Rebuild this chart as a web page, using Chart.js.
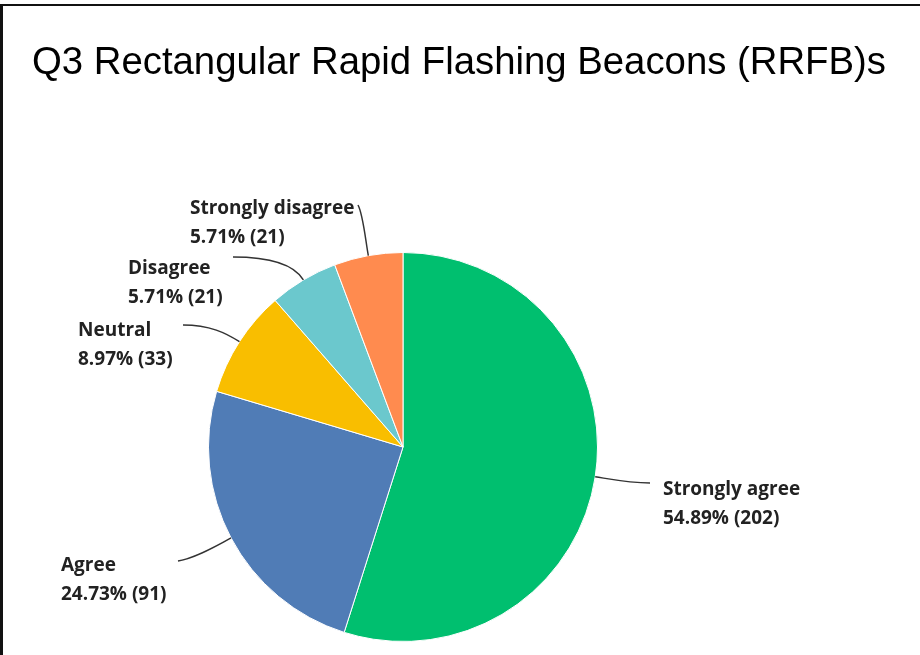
<!DOCTYPE html>
<html>
<head>
<meta charset="utf-8">
<script src="https://cdn.jsdelivr.net/npm/chart.js@4"></script>
<style>
    html, body { margin: 0; padding: 0; background: #fff; }
    canvas { display: block; }
</style>
</head>
<body>
<canvas id="pieChart" width="920" height="655"></canvas>
<script>
// chart data
const titleText = 'Q3 Rectangular Rapid Flashing Beacons (RRFB)s';
const answers = ['Strongly agree', 'Agree', 'Neutral', 'Disagree', 'Strongly disagree'];
const counts = [202, 91, 33, 21, 21];
const percents = ['54.89%', '24.73%', '8.97%', '5.71%', '5.71%'];
const sliceColors = ['#00bf6f', '#507cb6', '#f9be00', '#6bc8cd', '#ff8b4f'];

// where each callout ends and where its text sits (layout only)
const callouts = [
    { end: [650, 483], bend: [630, 483], text: [663, 495] },
    { end: [178, 561], bend: [196, 558], text: [61, 571] },
    { end: [183, 325], bend: [210, 325], text: [78, 336] },
    { end: [233, 257], bend: [275, 257], text: [128, 274] },
    { end: [358, 205], bend: [363, 214], text: [190, 214] }
];

const calloutPlugin = {
    id: 'callouts',
    beforeDraw(chart) {
        const ctx = chart.ctx;
        ctx.save();
        // frame
        ctx.fillStyle = '#111';
        ctx.fillRect(0, 4, chart.width, 2);
        ctx.fillRect(0, 4, 3, chart.height - 4);
        // title
        ctx.fillStyle = '#000';
        ctx.font = '38px "Liberation Sans", Arial, sans-serif';
        ctx.textBaseline = 'alphabetic';
        const w = ctx.measureText(titleText).width;
        ctx.translate(32, 74);
        ctx.scale(854 / w, 1);
        ctx.fillText(titleText, 0, 0);
        ctx.restore();
    },
    afterDatasetsDraw(chart) {
        const ctx = chart.ctx;
        const arcs = chart.getDatasetMeta(0).data;
        ctx.save();
        arcs.forEach((arc, i) => {
            const p = arc.getProps(['x', 'y', 'startAngle', 'endAngle', 'outerRadius'], true);
            const mid = (p.startAngle + p.endAngle) / 2;
            const dx = Math.cos(mid), dy = Math.sin(mid);
            const sx = p.x + dx * p.outerRadius;
            const sy = p.y + dy * p.outerRadius;
            const c = callouts[i];
            ctx.beginPath();
            ctx.moveTo(sx, sy);
            ctx.bezierCurveTo(sx + dx * 16, sy + dy * 16, c.bend[0], c.bend[1], c.end[0], c.end[1]);
            ctx.strokeStyle = '#333';
            ctx.lineWidth = 1.5;
            ctx.stroke();

            ctx.fillStyle = '#222';
            ctx.font = 'bold 19px "Open Sans", sans-serif';
            ctx.textAlign = 'left';
            ctx.textBaseline = 'alphabetic';
            ctx.fillText(answers[i], c.text[0], c.text[1]);
            ctx.fillText(percents[i] + ' (' + counts[i] + ')', c.text[0], c.text[1] + 29);
        });
        ctx.restore();
    }
};

new Chart(document.getElementById('pieChart').getContext('2d'), {
    type: 'pie',
    data: {
        labels: answers,
        datasets: [{
            data: counts,
            backgroundColor: sliceColors,
            borderColor: '#ffffff',
            borderWidth: 1
        }]
    },
    options: {
        responsive: false,
        animation: false,
        layout: {
            padding: { left: 208, right: 322, top: 252, bottom: 13 }
        },
        plugins: {
            legend: { display: false },
            tooltip: { enabled: false }
        }
    },
    plugins: [calloutPlugin]
});
</script>
</body>
</html>
